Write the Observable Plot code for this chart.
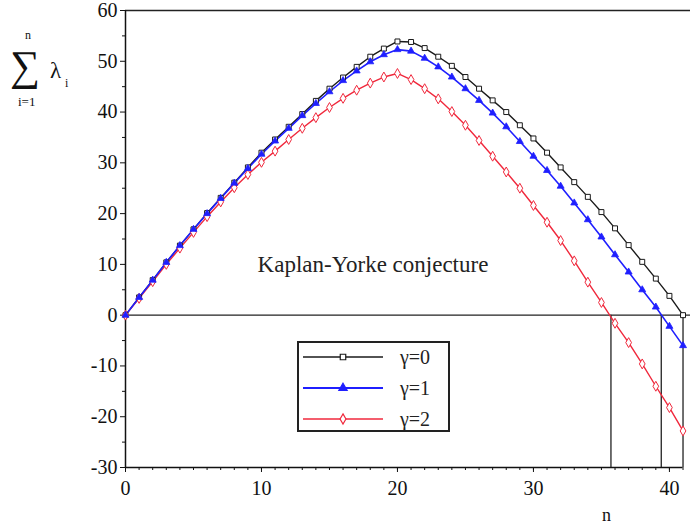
<!DOCTYPE html>
<html><head><meta charset="utf-8">
<script src="https://cdn.jsdelivr.net/npm/d3@7"></script>
<script src="https://cdn.jsdelivr.net/npm/@observablehq/plot@0.6"></script>
<style>
body{margin:0;background:#fff;}
#wrap{position:relative;width:690px;height:528px;}
#wrap svg{position:absolute;left:0;top:0;}
#wrap svg, #wrap svg text{font-family:'Liberation Serif','DejaVu Serif','Times New Roman',Times,serif !important;}
</style></head><body><div id="wrap"></div>
<script>
const nValues = [0,1,2,3,4,5,6,7,8,9,10,11,12,13,14,15,16,17,18,19,20,21,22,23,24,25,26,27,28,29,30,31,32,33,34,35,36,37,38,39,40,41];
const gamma0 = [0,3.5,6.9,10.4,13.7,16.9,20.1,23.1,26.1,29.1,32.0,34.6,37.1,39.6,42.2,44.6,46.8,48.9,50.9,52.5,53.9,53.8,52.6,50.9,49.1,46.9,44.6,42.3,40.0,37.4,34.8,32.0,29.1,26.2,23.3,20.3,17.1,13.8,10.5,7.2,3.8,0];
const gamma1 = [0,3.5,6.9,10.4,13.7,16.9,20.0,23.0,26.0,28.9,31.7,34.3,36.8,39.3,41.7,44.0,46.2,48.1,49.9,51.3,52.3,52.0,50.6,48.9,46.9,44.6,42.3,39.8,37.1,34.2,31.3,28.5,25.4,22.1,18.8,15.4,11.9,8.5,5.0,1.6,-2.2,-6.0];
const gamma2 = [0,3.3,6.6,10.0,13.2,16.3,19.4,22.3,25.1,27.7,30.1,32.3,34.6,36.8,38.9,40.9,42.7,44.3,45.7,46.9,47.6,46.4,44.6,42.6,40.1,37.4,34.4,31.3,28.2,25.0,21.6,18.3,14.7,10.7,6.5,2.5,-1.6,-5.4,-9.6,-14.0,-18.2,-22.8];
const seriesNames = ["γ=0","γ=1","γ=2"];
const seriesColors = ["#1a1a1a","#1f1fff","#f0283c"];
const crossings = [35.7, 39.4, 41];
const xTicks = [0,10,20,30,40];
const yTicks = [-30,-20,-10,0,10,20,30,40,50,60];
const annotation = {text:"Kaplan-Yorke conjecture", n:18.2, value:10};

const data = [];
[gamma0,gamma1,gamma2].forEach((arr,k)=>arr.forEach((v,i)=>data.push({n:nValues[i], v, s:seriesNames[k]})));
const byS = s => data.filter(d=>d.s===s);

const font = "'Liberation Serif','DejaVu Serif','Times New Roman',Times,serif";
const chart = Plot.plot({
  width: 690, height: 528,
  marginLeft: 125, marginRight: 0, marginTop: 10, marginBottom: 61,
  style: {fontFamily: font, fontSize: "20px", color: "#111", background: "transparent"},
  x: {domain: [0, 41.55]},
  y: {domain: [-30, 60]},
  marks: [
    Plot.ruleY([60], {stroke:"#222", strokeWidth:1.5}),
    Plot.ruleY([0], {stroke:"#222", strokeWidth:1.3}),
    Plot.ruleY([-30], {x1:0, x2:d3.max(nValues), stroke:"#111", strokeWidth:1.5}),
    Plot.ruleX([0], {y1:-30, y2:60, stroke:"#111", strokeWidth:1.5}),
    Plot.ruleX(crossings, {y1:-30, y2:0, stroke:"#222", strokeWidth:1.3}),
    Plot.axisX({ticks: xTicks, tickSize: 5, tickPadding: 8, fontSize: 20, label: null, tickFormat: d=>String(d)}),
    Plot.axisX({ticks: nValues, tickSize: 3, tickFormat: ()=>"", label: null}),
    Plot.axisY({ticks: yTicks, tickSize: 5, tickPadding: 3, fontSize: 20, label: null, tickFormat: d=>String(d)}),
    Plot.axisY({ticks: d3.range(-25,60,10), tickSize: 3, tickFormat: ()=>"", label: null}),
    Plot.line(byS("γ=0"), {x:"n", y:"v", stroke: seriesColors[0], strokeWidth:1.4}),
    Plot.line(byS("γ=2"), {x:"n", y:"v", stroke: seriesColors[2], strokeWidth:1.4}),
    Plot.line(byS("γ=1"), {x:"n", y:"v", stroke: seriesColors[1], strokeWidth:1.6}),
    Plot.dot(byS("γ=0"), {x:"n", y:"v", symbol:"square", r:2.8, stroke: seriesColors[0], fill:"white", strokeWidth:1}),
    Plot.dot(byS("γ=2"), {x:"n", y:"v", symbol:"diamond", r:3, stroke: seriesColors[2], fill:"white", strokeWidth:1}),
    Plot.dot(byS("γ=1"), {x:"n", y:"v", symbol:"triangle", r:2.6, fill: seriesColors[1], stroke: seriesColors[1], strokeWidth:0.8}),
    Plot.text([annotation], {x:"n", y:"value", text:"text", fontSize: 23, fill:"#222", fontFamily: font})
  ]
});
const wrap = document.getElementById("wrap");
wrap.appendChild(chart);

// overlay: axis titles and legend
const ov = d3.select(wrap).append("svg").attr("width",690).attr("height",528)
  .attr("font-family", font).style("pointer-events","none");
const T = (x,y,size,txt)=>ov.append("text").attr("x",x).attr("y",y).attr("font-size",size)
  .attr("font-family",font).attr("fill","#111").text(txt);
T(10,80,42,"∑");
T(25,39,12,"n");
T(18,106,13,"i=1");
T(50,78,23,"λ");
T(65,87,12,"i");
T(602,521,18,"n");

const lg = ov.append("g").attr("transform","translate(298,342)");
lg.append("rect").attr("x",0).attr("y",0).attr("width",151).attr("height",89)
  .attr("fill","white").attr("stroke","#222").attr("stroke-width",2);
const symbols = [d3.symbolSquare, d3.symbolTriangle, d3.symbolDiamond];
seriesNames.forEach((name,k)=>{
  const yy = 15 + k*31;
  lg.append("line").attr("x1",5).attr("x2",85).attr("y1",yy).attr("y2",yy)
    .attr("stroke",seriesColors[k]).attr("stroke-width",k===1?2:1.4);
  lg.append("path").attr("d", d3.symbol(symbols[k], 30)()).attr("transform",`translate(45,${yy})`)
    .attr("fill", k===1? seriesColors[k] : "white").attr("stroke", seriesColors[k]).attr("stroke-width",1.2);
  lg.append("text").attr("x",102).attr("y",yy+7).attr("font-size",20).attr("font-family",font)
    .attr("fill","#222").text(name);
});
</script></body></html>
